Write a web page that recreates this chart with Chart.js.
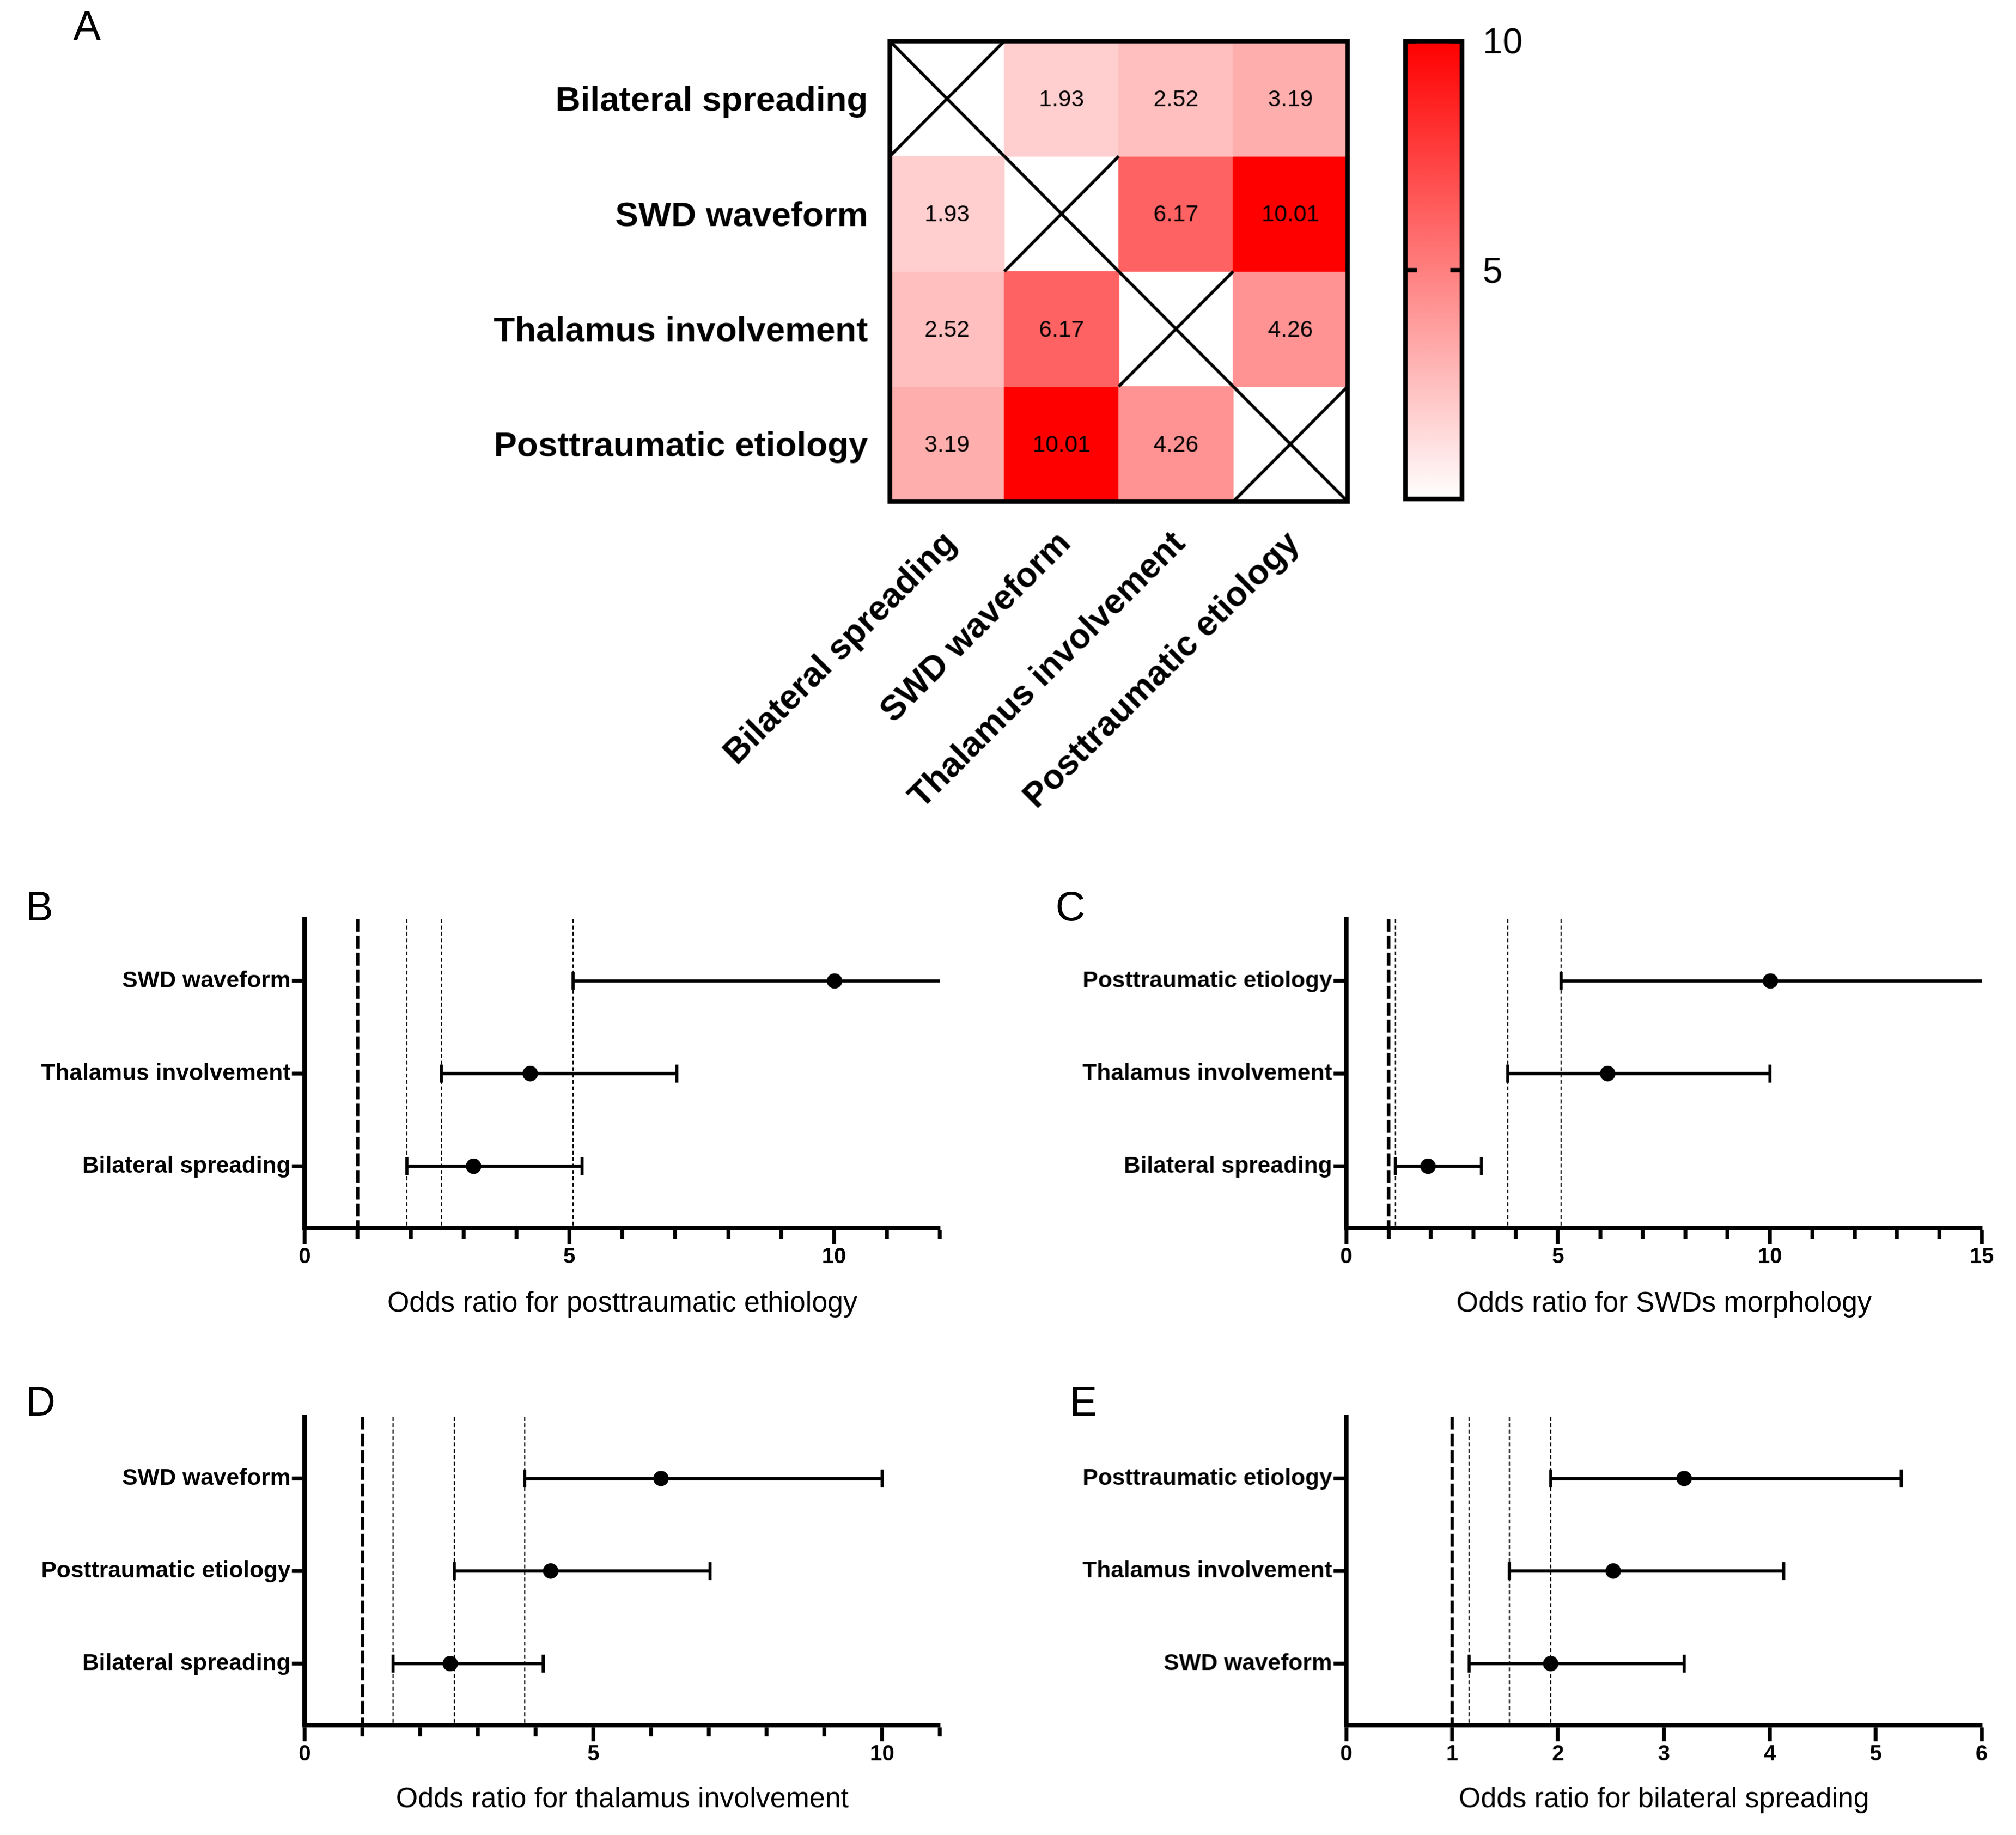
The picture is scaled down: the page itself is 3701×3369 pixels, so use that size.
<!DOCTYPE html>
<html>
<head>
<meta charset="utf-8">
<title>Odds ratio matrix and forest plots</title>
<script src="https://cdn.jsdelivr.net/npm/chart.js@4.4.1/dist/chart.umd.min.js"></script>
<style>
  html, body { margin: 0; padding: 0; background: #fff; overflow: hidden; }
  #page { position: absolute; left: 0; top: 0; width: 1568px; height: 1427px; transform-origin: 0 0; font-family: 'Liberation Sans', Arial, sans-serif; }
  #page canvas { position: absolute; }
  .panel-letter { position: absolute; font-size: 32px; line-height: 32px; color: #000; }
</style>
</head>
<body>
<div id="page">
  <div class="panel-letter" style="left:57px; top:4px;">A</div>
  <div class="panel-letter" style="left:20px; top:689px;">B</div>
  <div class="panel-letter" style="left:821px; top:689px;">C</div>
  <div class="panel-letter" style="left:20px; top:1074px;">D</div>
  <div class="panel-letter" style="left:832px; top:1074px;">E</div>
  <canvas id="heat" width="1075" height="640" style="left:0; top:0;"></canvas>
  <canvas id="cbar" width="160" height="420" style="left:1080px; top:0;"></canvas>
  <canvas id="forestB" width="780" height="337" style="left:0; top:690px;"></canvas>
  <canvas id="forestC" width="760" height="337" style="left:800px; top:690px;"></canvas>
  <canvas id="forestD" width="780" height="336" style="left:0; top:1077px;"></canvas>
  <canvas id="forestE" width="760" height="336" style="left:800px; top:1077px;"></canvas>
</div>
<script>
const S = 3701 / 1568;
document.getElementById('page').style.transform = 'scale(' + S + ')';
Chart.defaults.font.family = "'Liberation Sans', Arial, sans-serif";
Chart.defaults.color = '#000';

// panel A - odds ratio matrix (row by row, diagonal empty)
const matrixLabels = ['Bilateral spreading', 'SWD waveform', 'Thalamus involvement', 'Posttraumatic etiology'];
const rowBilateral = [null, 1.93, 2.52, 3.19];
const rowSwd = [1.93, null, 6.17, 10.01];
const rowThalamus = [2.52, 6.17, null, 4.26];
const rowPosttraumatic = [3.19, 10.01, 4.26, null];
const matrixRows = [rowBilateral, rowSwd, rowThalamus, rowPosttraumatic];
const colorbarRange = [0, 10];
const colorbarTicks = [5, 10];

// panels B-E - forest plots, top row first
const refOdds = 1;

const bLabels = ['SWD waveform', 'Thalamus involvement', 'Bilateral spreading'];
const bOdds = [10.01, 4.26, 3.19];
const bLow = [5.07, 2.58, 1.93];
const bHigh = [19.8, 7.03, 5.24];

const cLabels = ['Posttraumatic etiology', 'Thalamus involvement', 'Bilateral spreading'];
const cOdds = [10.01, 6.17, 1.93];
const cLow = [5.07, 3.81, 1.16];
const cHigh = [19.8, 10.0, 3.19];

const dLabels = ['SWD waveform', 'Posttraumatic etiology', 'Bilateral spreading'];
const dOdds = [6.17, 4.26, 2.52];
const dLow = [3.81, 2.59, 1.53];
const dHigh = [10.0, 7.02, 4.13];

const eLabels = ['Posttraumatic etiology', 'Thalamus involvement', 'SWD waveform'];
const eOdds = [3.19, 2.52, 1.93];
const eLow = [1.93, 1.54, 1.16];
const eHigh = [5.24, 4.13, 3.19];

function heatColor(v) {
    let t = (v - colorbarRange[0]) / (colorbarRange[1] - colorbarRange[0]);
    t = Math.max(0, Math.min(1, t));
    let g = Math.round(255 * (1 - t));
    return 'rgb(255,' + g + ',' + g + ')';
}

const heatDecor = {
    id: 'heatDecor',
    afterDatasetsDraw(chart) {
        const { ctx, chartArea } = chart;
        const x = chart.scales.x, y = chart.scales.y;
        const half = (x.getPixelForValue(1) - x.getPixelForValue(0)) / 2;
        ctx.save();
        ctx.strokeStyle = '#000';
        ctx.fillStyle = '#000';
        ctx.font = "18px 'Liberation Sans', Arial, sans-serif";
        ctx.textAlign = 'center';
        ctx.textBaseline = 'middle';
        matrixRows.forEach((row, r) => {
            const y0 = y.getPixelForValue(r), y1 = y.getPixelForValue(r + 1);
            row.forEach((v, c) => {
                const cx = x.getPixelForValue(c);
                if (v === null) {
                    ctx.lineWidth = 2.4;
                    ctx.beginPath();
                    ctx.moveTo(cx - half, y0); ctx.lineTo(cx + half, y1);
                    ctx.moveTo(cx - half, y1); ctx.lineTo(cx + half, y0);
                    ctx.stroke();
                } else {
                    ctx.fillText(v.toFixed(2), cx, (y0 + y1) / 2 + 1);
                }
            });
        });
        ctx.lineWidth = 3.5;
        ctx.strokeRect(chartArea.left, chartArea.top, chartArea.right - chartArea.left, chartArea.bottom - chartArea.top);
        ctx.restore();
    }
};

new Chart(document.getElementById('heat'), {
    type: 'bar',
    data: {
        labels: matrixLabels,
        datasets: matrixRows.map((row, r) => ({
            data: row.map((v) => (v === null ? null : [r, r + 1])),
            backgroundColor: row.map((v) => (v === null ? 'rgba(0,0,0,0)' : heatColor(v))),
            grouped: false,
            barPercentage: 1,
            categoryPercentage: 1,
            borderWidth: 0,
        })),
    },
    options: {
        responsive: false,
        devicePixelRatio: S,
        animation: false,
        events: [],
        layout: { padding: { left: 0, top: 32, right: 27, bottom: 0 } },
        plugins: { legend: { display: false }, tooltip: { enabled: false } },
        scales: {
            x: {
                grid: { display: false, drawTicks: false },
                border: { display: false },
                ticks: { minRotation: 45, maxRotation: 45, autoSkip: false, padding: 17, labelOffset: 3, font: { size: 27, weight: 'bold' } },
                afterFit: (s) => { s.height = 250; s.paddingLeft = 0; s.paddingRight = 0; },
            },
            y: {
                min: 0, max: 4, reverse: true,
                grid: { display: false, drawTicks: false },
                border: { display: false },
                afterBuildTicks: (s) => { s.ticks = matrixLabels.map((l, i) => ({ value: i + 0.5 })); },
                ticks: { padding: 17, labelOffset: 2, font: { size: 27, weight: 'bold' }, callback: (v) => matrixLabels[Math.floor(v)] },
                afterFit: (s) => { s.width = 692; s.paddingTop = 0; s.paddingBottom = 0; },
            },
        },
    },
    plugins: [heatDecor],
});

// colour bar
const cbarDecor = {
    id: 'cbarDecor',
    afterDatasetsDraw(chart) {
        const { ctx, chartArea } = chart;
        const y = chart.scales.y;
        ctx.save();
        ctx.strokeStyle = '#000';
        ctx.lineWidth = 3.4;
        colorbarTicks.forEach((v) => {
            const py = y.getPixelForValue(v);
            ctx.beginPath();
            ctx.moveTo(chartArea.left, py); ctx.lineTo(chartArea.left + 9, py);
            ctx.moveTo(chartArea.right - 9, py); ctx.lineTo(chartArea.right, py);
            ctx.stroke();
        });
        ctx.lineWidth = 3.5;
        ctx.strokeRect(chartArea.left, chartArea.top, chartArea.right - chartArea.left, chartArea.bottom - chartArea.top);
        ctx.restore();
    }
};

new Chart(document.getElementById('cbar'), {
    type: 'bar',
    data: {
        labels: [''],
        datasets: [{
            data: [colorbarRange],
            backgroundColor: (c) => {
                const ca = c.chart.chartArea;
                if (!ca) return '#f88';
                const g = c.chart.ctx.createLinearGradient(0, ca.bottom, 0, ca.top);
                g.addColorStop(0, heatColor(colorbarRange[0]));
                g.addColorStop(1, heatColor(colorbarRange[1]));
                return g;
            },
            barPercentage: 1,
            categoryPercentage: 1,
            borderWidth: 0,
        }],
    },
    options: {
        responsive: false,
        devicePixelRatio: S,
        animation: false,
        events: [],
        layout: { padding: { left: 13, top: 32, right: 0, bottom: 32 } },
        plugins: { legend: { display: false }, tooltip: { enabled: false } },
        scales: {
            x: { display: false },
            y: {
                position: 'right',
                min: colorbarRange[0], max: colorbarRange[1],
                grid: { display: false, drawTicks: false },
                border: { display: false },
                afterBuildTicks: (s) => { s.ticks = colorbarTicks.map((v) => ({ value: v })); },
                ticks: { padding: 16, labelOffset: 2, font: { size: 28 } },
                afterFit: (s) => { s.width = 103; s.paddingTop = 0; s.paddingBottom = 0; },
            },
        },
    },
    plugins: [cbarDecor],
});

// forest plots
function forestChart(id, labels, odds, low, high, xMax, labelStep, title, yWidth, padRight, axisHeight) {
    const yMin = 1 - 2 / 3, yMax = labels.length + 2 / 3;
    let sets = [];
    sets.push({
        data: odds.map((v, i) => ({ x: v, y: i + 1 })),
        pointRadius: 5.5, pointBackgroundColor: '#000', pointBorderColor: '#000', showLine: false,
    });
    labels.forEach((l, i) => {
        sets.push({
            data: [{ x: low[i], y: i + 1 }, { x: high[i], y: i + 1 }],
            showLine: true, borderColor: '#000', borderWidth: 2.6,
            pointStyle: 'line', pointRotation: 90, pointRadius: 7,
            pointBorderWidth: 2.4, pointBorderColor: '#000',
        });
    });
    sets.push({
        data: [{ x: refOdds, y: yMin }, { x: refOdds, y: yMax }],
        showLine: true, borderColor: '#000', borderWidth: 2.6, borderDash: [10, 3], pointRadius: 0,
    });
    low.forEach((v) => {
        sets.push({
            data: [{ x: v, y: yMin }, { x: v, y: yMax }],
            showLine: true, borderColor: '#000', borderWidth: 0.9, borderDash: [3, 2], pointRadius: 0,
        });
    });
    return new Chart(document.getElementById(id), {
        type: 'scatter',
        data: { datasets: sets },
        options: {
            responsive: false,
            devicePixelRatio: S,
            animation: false,
            events: [],
            layout: { padding: { left: 0, top: 25, right: padRight, bottom: 0 } },
            plugins: { legend: { display: false }, tooltip: { enabled: false } },
            scales: {
                x: {
                    type: 'linear', min: 0, max: xMax,
                    grid: {
                        drawOnChartArea: false, drawTicks: true, tickLength: 12.5, tickWidth: 3, tickColor: '#000',
                        // minor ticks are shorter than the labelled ones
                        tickBorderDash: (c) => (c.tick && c.tick.value % labelStep !== 0 ? [7, 100] : []),
                    },
                    border: { display: true, width: 3.5, color: '#000' },
                    ticks: {
                        stepSize: 1, autoSkip: false, maxRotation: 0, padding: 0,
                        font: { size: 17, weight: 'bold' },
                        callback: (v) => (v % labelStep === 0 ? String(v) : ''),
                    },
                    title: { display: true, text: title, padding: 0, font: { size: 22 } },
                    afterFit: (s) => { s.height = axisHeight; s.paddingLeft = 0; s.paddingRight = 0; },
                },
                y: {
                    type: 'linear', min: yMin, max: yMax, reverse: true,
                    grid: { drawOnChartArea: false, drawTicks: true, tickLength: 10, tickWidth: 3, tickColor: '#000' },
                    border: { display: true, width: 3.5, color: '#000' },
                    afterBuildTicks: (s) => { s.ticks = labels.map((l, i) => ({ value: i + 1 })); },
                    ticks: { padding: 1, font: { size: 18, weight: 'bold' }, callback: (v) => labels[Math.round(v) - 1] },
                    afterFit: (s) => { s.width = yWidth; s.paddingTop = 0; s.paddingBottom = 0; },
                },
            },
        },
    });
}

forestChart('forestB', bLabels, bOdds, bLow, bHigh, 12, 5, 'Odds ratio for posttraumatic ethiology', 237, 49, 72);
forestChart('forestC', cLabels, cOdds, cLow, cHigh, 15, 5, 'Odds ratio for SWDs morphology', 247, 19, 72);
forestChart('forestD', dLabels, dOdds, dLow, dHigh, 11, 5, 'Odds ratio for thalamus involvement', 237, 49, 71);
forestChart('forestE', eLabels, eOdds, eLow, eHigh, 6, 1, 'Odds ratio for bilateral spreading', 247, 19, 71);
</script>
</body>
</html>
